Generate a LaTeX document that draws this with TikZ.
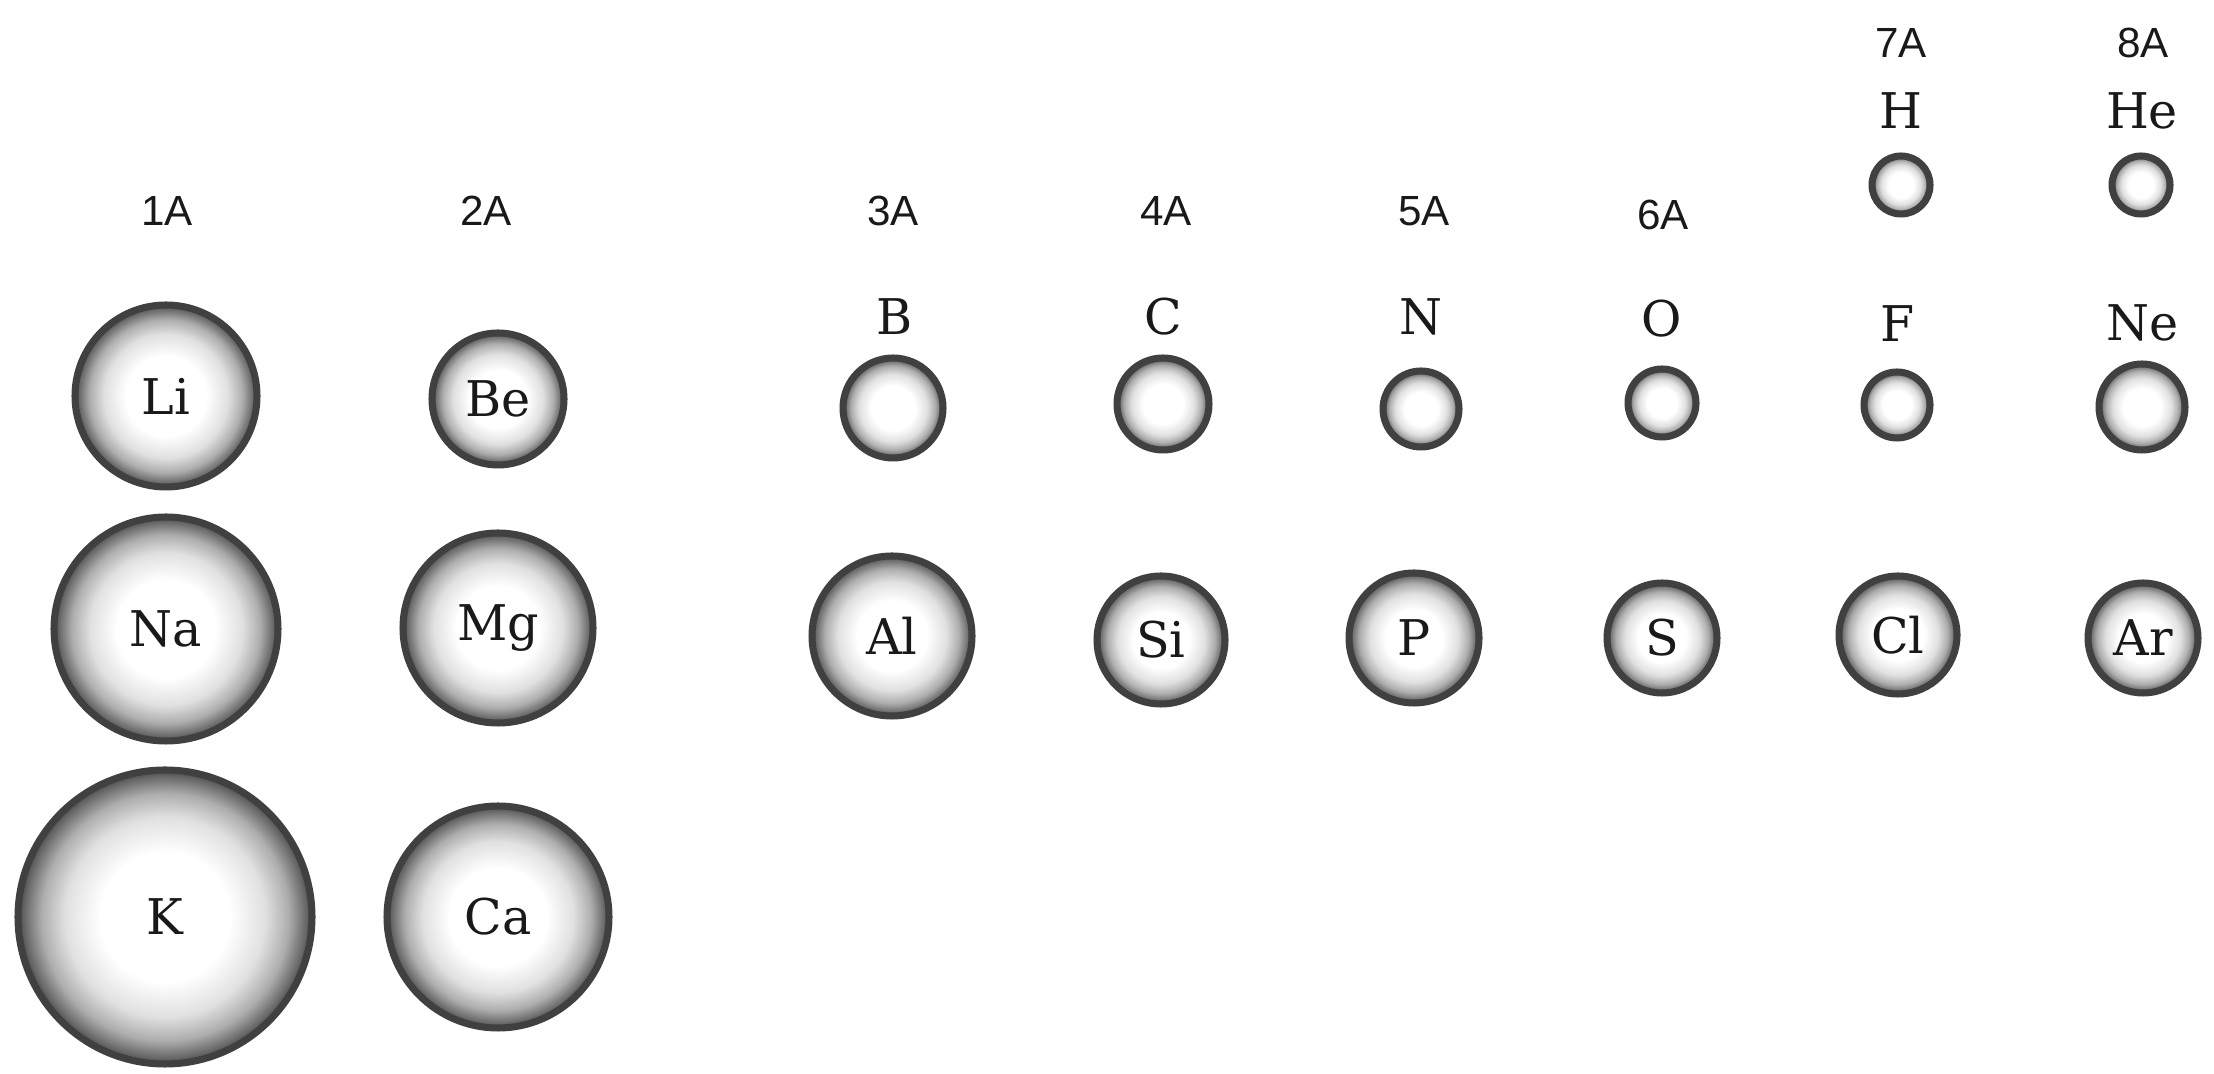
\documentclass[tikz,border=0pt]{standalone}
\usepackage{fontspec}
\setmainfont{DejaVu Serif}
\setsansfont{Liberation Sans}
\usepackage{tikz}
\usetikzlibrary{positioning}
\pgfdeclareradialshading{atomshade}{\pgfpoint{0bp}{0bp}}{%
  color(0bp)=(white); color(11bp)=(white); color(17bp)=(black!12);
  color(21bp)=(black!32); color(24bp)=(black!60); color(25bp)=(black!72);
  color(50bp)=(black!72)}

\begin{document}
\begin{tikzpicture}[
  every node/.style={inner sep=0pt},
  atom/.style={circle, draw=black!75, line width=2pt, shading=atomshade,
    font=\fontsize{14}{16}\selectfont, text=black!90},
  sym/.style={font=\fontsize{14}{16}\selectfont, text=black!90},
  group/.style={font=\sffamily\fontsize{12}{14}\selectfont, text=black!90},
]
  \useasboundingbox (0,0) rectangle (22.14,10.74);

  % Group headings
  \node[group] (g1) at (1.67,8.63) {1A};
  \node[group] (g2) at (4.86,8.63) {2A};
  \node[group] (g3) at (8.93,8.63) {3A};
  \node[group] (g4) at (11.66,8.63) {4A};
  \node[group] (g5) at (14.24,8.63) {5A};
  \node[group] (g6) at (16.63,8.59) {6A};
  \node[group] (g7) at (19.01,10.31) {7A};
  \node[group] (g8) at (21.43,10.31) {8A};

  % Period 1
  \node[sym] (lh) at (19.01,9.63) {H};
  \node[atom, minimum size=0.58cm] (h) at (19.01,8.89) {};
  \node[sym] (lhe) at (21.42,9.63) {He};
  \node[atom, minimum size=0.58cm] (he) at (21.41,8.89) {};

  % Period 2
  \node[atom, minimum size=1.82cm] (li) at (1.66,6.78) {Li};
  \node[atom, minimum size=1.32cm] (be) at (4.98,6.75) {Be};
  \node[sym] (lb) at (8.95,7.57) {B};
  \node[atom, minimum size=1.00cm] (b) at (8.93,6.66) {};
  \node[sym] (lc) at (11.63,7.57) {C};
  \node[atom, minimum size=0.92cm] (c) at (11.63,6.70) {};
  \node[sym] (ln) at (14.21,7.57) {N};
  \node[atom, minimum size=0.76cm] (n) at (14.21,6.65) {};
  \node[sym] (lo) at (16.62,7.55) {O};
  \node[atom, minimum size=0.68cm] (o) at (16.62,6.71) {};
  \node[sym] (lf) at (18.98,7.50) {F};
  \node[atom, minimum size=0.66cm] (f) at (18.97,6.69) {};
  \node[sym] (lne) at (21.43,7.51) {Ne};
  \node[atom, minimum size=0.86cm] (ne) at (21.42,6.67) {};

  % Period 3
  \node[atom, minimum size=2.24cm] (na) at (1.66,4.45) {Na};
  \node[atom, minimum size=1.90cm] (mg) at (4.98,4.46) {Mg};
  \node[atom, minimum size=1.60cm] (al) at (8.92,4.38) {Al};
  \node[atom, minimum size=1.28cm] (si) at (11.61,4.34) {Si};
  \node[atom, minimum size=1.30cm] (p) at (14.14,4.36) {P};
  \node[atom, minimum size=1.10cm] (s) at (16.62,4.36) {S};
  \node[atom, minimum size=1.18cm] (cl) at (18.98,4.39) {Cl};
  \node[atom, minimum size=1.10cm] (ar) at (21.43,4.36) {Ar};

  % Period 4
  \node[atom, minimum size=2.94cm] (k) at (1.65,1.57) {K};
  \node[atom, minimum size=2.22cm] (ca) at (4.98,1.57) {Ca};

\end{tikzpicture}
\end{document}
